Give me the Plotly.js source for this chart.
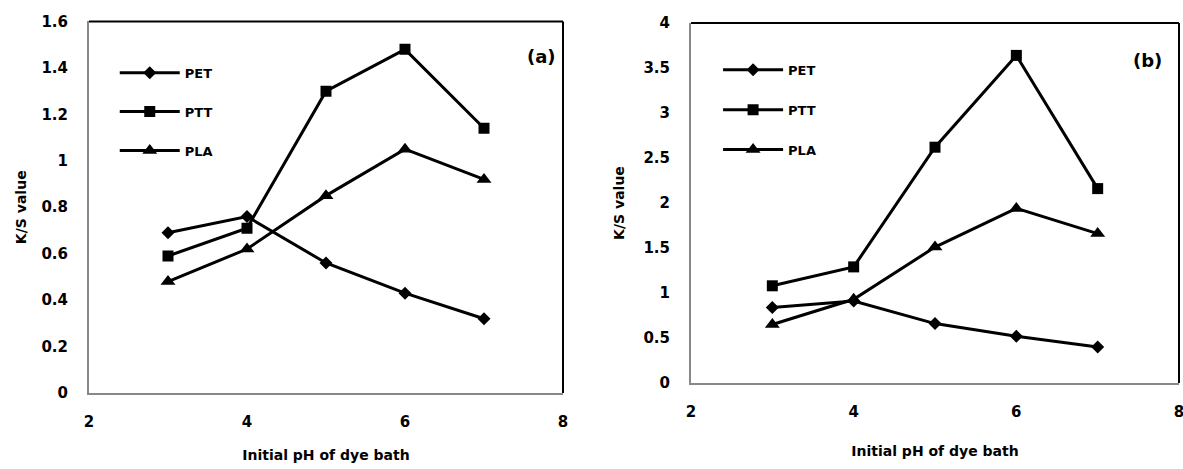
<!DOCTYPE html>
<html><head><meta charset="utf-8">
<script src="https://cdn.plot.ly/plotly-3.0.1.min.js"></script>
<style>html,body{margin:0;padding:0;background:#fff}#chart{width:1183px;height:469px}</style>
</head><body><div id="chart"></div>
<script>
// pH values (x)
const pH = [3, 4, 5, 6, 7];
// Panel (a)
const petA = [0.69, 0.76, 0.56, 0.43, 0.32];
const pttA = [0.59, 0.71, 1.30, 1.48, 1.14];
const plaA = [0.48, 0.62, 0.85, 1.05, 0.92];
// Panel (b)
const petB = [0.84, 0.91, 0.66, 0.52, 0.40];
const pttB = [1.08, 1.29, 2.62, 3.64, 2.16];
const plaB = [0.65, 0.93, 1.51, 1.94, 1.66];
const seriesNames = ['PET', 'PTT', 'PLA'];
const panelLabels = ['(a)', '(b)'];
const xTitle = 'Initial pH of dye bath';
const yTitle = 'K/S value';

const FONT = '"DejaVu Sans", sans-serif';
const symbols = ['diamond', 'square', 'triangle-up'];
const sizes = [10, 11, 13];

function mk(y, i, xa, ya, leg) {
  return {
    x: pH, y: y, name: seriesNames[i], type: 'scatter', mode: 'lines+markers',
    xaxis: xa, yaxis: ya, legend: leg, legendgroup: leg + i,
    line: {color: '#000', width: 3},
    marker: {symbol: symbols[i], size: sizes[i], color: '#000'}
  };
}
const data = [
  mk(petA, 0, 'x', 'y', 'legend'), mk(pttA, 1, 'x', 'y', 'legend'), mk(plaA, 2, 'x', 'y', 'legend'),
  mk(petB, 0, 'x2', 'y2', 'legend2'), mk(pttB, 1, 'x2', 'y2', 'legend2'), mk(plaB, 2, 'x2', 'y2', 'legend2')
];

const tickFont = {family: FONT, size: 15, color: '#000', weight: 700};
const titleFont = {family: FONT, size: 14, color: '#000', weight: 700};
function xax(dom, so) {
  return {domain: dom, range: [2, 8], dtick: 2, tick0: 2, showgrid: false, zeroline: false,
    showline: true, linecolor: '#888', linewidth: 2, ticks: '', ticklabelstandoff: 14,
    ticklabeloverflow: 'allow',
    tickfont: tickFont, title: {text: xTitle, font: titleFont, standoff: so}, fixedrange: true};
}
function yax(dom, rng, dt, anchor, so) {
  return {domain: dom, range: rng, dtick: dt, showgrid: false, zeroline: false, anchor: anchor,
    showline: true, linecolor: '#888', linewidth: 2, ticks: '', ticklabelstandoff: 16,
    tickfont: tickFont, title: {text: yTitle, font: titleFont, standoff: so}, fixedrange: true};
}
function frame(xr, yr) {
  return [
    {type: 'line', xref: xr + ' domain', yref: yr + ' domain', x0: 0, x1: 1, y0: 1, y1: 1, line: {color: '#000', width: 2}},
    {type: 'line', xref: xr + ' domain', yref: yr + ' domain', x0: 1, x1: 1, y0: 0, y1: 1, line: {color: '#000', width: 2}}
  ];
}
const legFont = {family: FONT, size: 13, color: '#000', weight: 700};
const layout = {
  width: 1183, height: 469,
  margin: {l: 0, r: 0, t: 0, b: 0},
  paper_bgcolor: '#fff', plot_bgcolor: '#fff',
  showlegend: true,
  xaxis: Object.assign(xax([0.07523, 0.47591], 20), {anchor: 'y'}),
  yaxis: yax([0.16205, 0.95416], [0, 1.6], 0.2, 'x', 12),
  xaxis2: Object.assign(xax([0.58411, 0.99662], 26), {anchor: 'y2'}),
  yaxis2: yax([0.18337, 0.95096], [0, 4], 0.5, 'x2', 16),
  legend: {x: 0.097, y: 0.877, xanchor: 'left', yanchor: 'top', bgcolor: 'rgba(0,0,0,0)',
    font: legFont, tracegroupgap: 19, itemwidth: 60},
  legend2: {x: 0.607, y: 0.883, xanchor: 'left', yanchor: 'top', bgcolor: 'rgba(0,0,0,0)',
    font: legFont, tracegroupgap: 20, itemwidth: 60},
  shapes: frame('x', 'y').concat(frame('x2', 'y2')),
  annotations: [
    {text: panelLabels[0], xref: 'x domain', yref: 'y domain', x: 0.955, y: 0.905, showarrow: false,
      xanchor: 'center', yanchor: 'middle', font: {family: FONT, size: 18, color: '#000', weight: 700}},
    {text: panelLabels[1], xref: 'x2 domain', yref: 'y2 domain', x: 0.935, y: 0.895, showarrow: false,
      xanchor: 'center', yanchor: 'middle', font: {family: FONT, size: 18, color: '#000', weight: 700}}
  ]
};
Plotly.newPlot('chart', data, layout, {displayModeBar: false, staticPlot: true});
</script></body></html>
